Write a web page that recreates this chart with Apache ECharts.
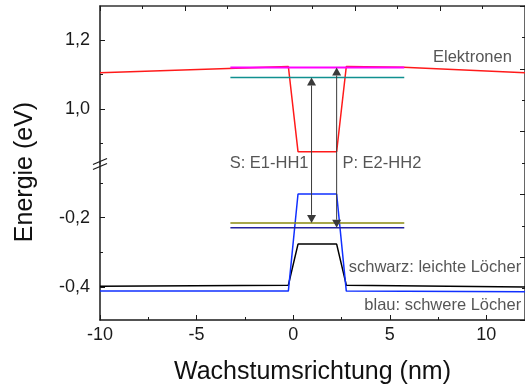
<!DOCTYPE html>
<html>
<head>
<meta charset="utf-8">
<script src="https://cdn.jsdelivr.net/npm/echarts@6/dist/echarts.min.js"></script>
<style>
  html, body { margin: 0; padding: 0; background: #fff; }
  #chart { width: 525px; height: 387px; }
</style>
</head>
<body>
<div id="chart"></div>
<script>
// Band edges along the growth direction (nm) and energies (eV)
const elecX = [-10, -0.25, 0.25, 2.25, 2.75, 5.7, 12];
const elecE = [1.106, 1.124, 0.876, 0.876, 1.124, 1.122, 1.106];

const holeX = [-10, -0.25, 0.25, 2.25, 2.75, 12];
const lightHoleE = [-0.397, -0.394, -0.276, -0.276, -0.394, -0.399];
const heavyHoleE = [-0.411, -0.411, -0.132, -0.132, -0.411, -0.413];

// Confined levels drawn across the well region
const levelX = [-3.25, 5.75];
const levelE1 = 1.092;
const levelE2 = 1.121;
const levelHH1 = -0.215;
const levelHH2 = -0.229;

// Transition positions (S: E1-HH1, P: E2-HH2)
const transitionX = [0.95, 2.25];

// Axis ranges (broken energy axis)
const xRange = [-10, 12];
const yUpper = [0.843, 1.3];
const yLower = [-0.494, -0.043];

// Tick values
const xMajorTicks = [-10, -5, 0, 5, 10];
const xMinorTicks = [-7.5, -2.5, 2.5, 7.5];
const upperMajorTicks = [1.0, 1.2];
const upperMinorTicks = [0.9, 1.1];
const lowerMajorTicks = [-0.4, -0.2];
const lowerMinorTicks = [-0.3, -0.1];

// Text annotations
const upperNotes = [
  { name: 'Elektronen', value: [11.32, 1.15], align: 'right' }
];
const lowerNotes = [
  { name: 'S: E1-HH1', value: [-3.29, -0.043], align: 'left' },
  { name: 'P: E2-HH2', value: [2.55, -0.043], align: 'left' },
  { name: 'schwarz: leichte Löcher', value: [11.8, -0.342], align: 'right' },
  { name: 'blau: schwere Löcher', value: [11.8, -0.451], align: 'right' }
];

const FONT = '"Liberation Sans", Arial, Helvetica, sans-serif';
const AXIS_COLOR = '#1a1a1a';
const ARROW_COLOR = '#3a3a3a';
const fmt = v => v.toFixed(1).replace('.', ',');
const zip = (xs, ys) => xs.map((x, i) => [x, ys[i]]);
const flat = (xs, y) => xs.map(x => [x, y]);

const chart = echarts.init(document.getElementById('chart'), null, { renderer: 'canvas' });

const lineBase = { type: 'line', symbol: 'none', showSymbol: false, silent: true, animation: false };
const axisLineStyle = { color: AXIS_COLOR, width: 1.5 };
const tickStyle = { color: AXIS_COLOR, width: 1 };
const labelStyle = { color: '#1a1a1a', fontSize: 18, fontFamily: FONT };

function majorY(gridIndex, range, ticks) {
  return {
    type: 'value', gridIndex, position: 'left', min: range[0], max: range[1],
    axisLine: { show: true, onZero: false, lineStyle: axisLineStyle },
    axisTick: { show: true, inside: true, length: 5, customValues: ticks, lineStyle: tickStyle },
    axisLabel: { show: true, customValues: ticks, formatter: fmt, margin: 10, ...labelStyle },
    splitLine: { show: false }
  };
}
function minorY(gridIndex, range, ticks) {
  return {
    type: 'value', gridIndex, position: 'left', min: range[0], max: range[1],
    axisLine: { show: false, onZero: false },
    axisTick: { show: true, inside: true, length: 3, customValues: ticks, lineStyle: tickStyle },
    axisLabel: { show: false },
    splitLine: { show: false }
  };
}

function noteSeries(xi, yi, notes) {
  return {
    type: 'scatter', xAxisIndex: xi, yAxisIndex: yi, symbolSize: 0, silent: true, animation: false, z: 20,
    data: notes.map(n => ({
      name: n.name, value: n.value,
      label: {
        show: true, position: [0, 0], align: n.align, verticalAlign: 'middle',
        formatter: '{b}', color: '#2a2a2a', fontSize: 16.5, fontFamily: FONT
      }
    }))
  };
}

// Vertical arrow: shaft from [x, yFrom] to a filled head whose tip sits on [x, yTo]
function arrowSeries(xi, yi, items) {
  return {
    type: 'custom', coordinateSystem: 'cartesian2d', xAxisIndex: xi, yAxisIndex: yi,
    silent: true, animation: false, z: 15, clip: false,
    data: items,
    renderItem: function (params, api) {
      const from = api.coord([api.value(0), api.value(1)]);
      const to = api.coord([api.value(0), api.value(2)]);
      const dir = to[1] > from[1] ? 1 : -1;
      const headLen = 8, headHalf = 4.5;
      const baseY = to[1] - dir * headLen;
      return {
        type: 'group',
        children: [
          { type: 'line', shape: { x1: from[0], y1: from[1], x2: to[0], y2: baseY },
            style: { stroke: ARROW_COLOR, lineWidth: 1 } },
          { type: 'polygon', shape: { points: [[to[0], to[1]], [to[0] - headHalf, baseY], [to[0] + headHalf, baseY]] },
            style: { fill: ARROW_COLOR } }
        ]
      };
    }
  };
}

const option = {
  backgroundColor: '#ffffff',
  animation: false,
  grid: [
    { left: 100, top: 6, width: 426, height: 157 },
    { left: 100, top: 163, width: 426, height: 157 },
    { left: 100, top: 6, width: 426, height: 314 }
  ],
  xAxis: [
    { type: 'value', gridIndex: 0, min: xRange[0], max: xRange[1], show: false },
    {
      type: 'value', gridIndex: 0, position: 'top', min: 0, max: 5, interval: 1,
      axisLine: { show: true, onZero: false, lineStyle: { color: '#333', width: 1.5 } },
      axisTick: { show: true, inside: true, length: 5, lineStyle: tickStyle },
      minorTick: { show: true, splitNumber: 2, length: 3, lineStyle: tickStyle },
      axisLabel: { show: false }, splitLine: { show: false }
    },
    {
      type: 'value', gridIndex: 1, position: 'bottom', min: xRange[0], max: xRange[1],
      axisLine: { show: true, onZero: false, lineStyle: axisLineStyle },
      axisTick: { show: true, inside: true, length: 5, customValues: xMajorTicks, lineStyle: tickStyle },
      axisLabel: { show: true, customValues: xMajorTicks, margin: 6, ...labelStyle },
      splitLine: { show: false },
      name: 'Wachstumsrichtung (nm)', nameLocation: 'middle', nameGap: 40,
      nameTextStyle: { fontSize: 25, fontFamily: FONT, color: '#111' }
    },
    {
      type: 'value', gridIndex: 1, position: 'bottom', min: xRange[0], max: xRange[1],
      axisLine: { show: false, onZero: false },
      axisTick: { show: true, inside: true, length: 3, customValues: xMinorTicks, lineStyle: tickStyle },
      axisLabel: { show: false }, splitLine: { show: false }
    },
    { type: 'value', gridIndex: 2, min: 0, max: 1, show: false }
  ],
  yAxis: [
    majorY(0, yUpper, upperMajorTicks),
    minorY(0, yUpper, upperMinorTicks),
    majorY(1, yLower, lowerMajorTicks),
    minorY(1, yLower, lowerMinorTicks),
    {
      type: 'value', gridIndex: 2, position: 'right', min: 0, max: 5, interval: 1,
      axisLine: { show: true, onZero: false, lineStyle: { color: '#333', width: 1.5 } },
      axisTick: { show: true, inside: true, length: 5, lineStyle: tickStyle },
      minorTick: { show: true, splitNumber: 2, length: 3, lineStyle: tickStyle },
      axisLabel: { show: false }, splitLine: { show: false }
    }
  ],
  series: [
    // conduction band
    { ...lineBase, name: 'Elektronen', xAxisIndex: 0, yAxisIndex: 0, z: 3,
      data: zip(elecX, elecE), lineStyle: { color: '#ff1a1a', width: 1.5 } },
    { ...lineBase, name: 'E2', xAxisIndex: 0, yAxisIndex: 0, z: 4,
      data: flat(levelX, levelE2), lineStyle: { color: '#ff00ff', width: 2 } },
    { ...lineBase, name: 'E1', xAxisIndex: 0, yAxisIndex: 0, z: 4,
      data: flat(levelX, levelE1), lineStyle: { color: '#109090', width: 1.5 } },
    // valence bands
    { ...lineBase, name: 'leichte Löcher', xAxisIndex: 2, yAxisIndex: 2, z: 3,
      data: zip(holeX, lightHoleE), lineStyle: { color: '#000000', width: 1.5 } },
    { ...lineBase, name: 'schwere Löcher', xAxisIndex: 2, yAxisIndex: 2, z: 4,
      data: zip(holeX, heavyHoleE), lineStyle: { color: '#1030ff', width: 1.5 } },
    { ...lineBase, name: 'HH1', xAxisIndex: 2, yAxisIndex: 2, z: 4,
      data: flat(levelX, levelHH1), lineStyle: { color: '#8a8a10', width: 1.5 } },
    { ...lineBase, name: 'HH2', xAxisIndex: 2, yAxisIndex: 2, z: 4,
      data: flat(levelX, levelHH2), lineStyle: { color: '#2222a0', width: 1.5 } },
    // transition arrows, split across the axis break
    arrowSeries(0, 0, [
      [transitionX[0], yUpper[0], levelE1],
      [transitionX[1], yUpper[0], levelE2]
    ]),
    arrowSeries(2, 2, [
      [transitionX[0], yLower[1], levelHH1],
      [transitionX[1], yLower[1], levelHH2]
    ]),
    noteSeries(0, 0, upperNotes),
    noteSeries(2, 2, lowerNotes)
  ],
  graphic: [
    {
      type: 'text', x: 25, y: 172, rotation: Math.PI / 2, z: 100,
      style: { text: 'Energie (eV)', fill: '#111', font: '25px ' + FONT, align: 'center', verticalAlign: 'middle' }
    },
    {
      type: 'group', x: 100, y: 163, z: 100,
      children: [
        { type: 'polygon', shape: { points: [[-7, 1.5], [7, -4.5], [7, 0.5], [-7, 6.5]] }, style: { fill: '#ffffff' } },
        { type: 'line', shape: { x1: -7, y1: 1.5, x2: 7, y2: -4.5 }, style: { stroke: AXIS_COLOR, lineWidth: 1.3 } },
        { type: 'line', shape: { x1: -7, y1: 6.5, x2: 7, y2: 0.5 }, style: { stroke: AXIS_COLOR, lineWidth: 1.3 } }
      ]
    }
  ]
};

chart.setOption(option);
</script>
</body>
</html>
